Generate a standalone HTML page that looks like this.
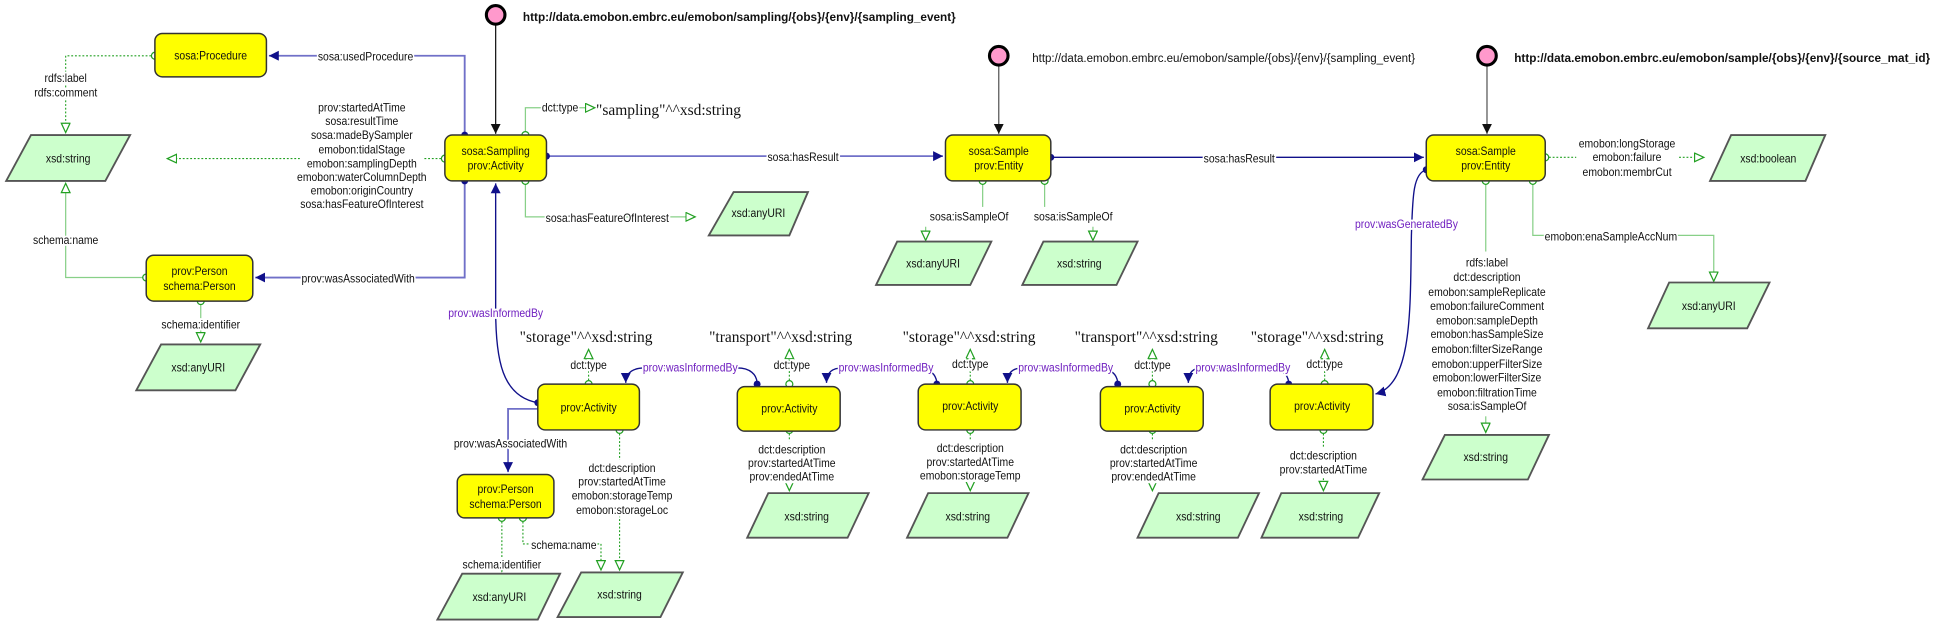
<!DOCTYPE html>
<html><head><meta charset="utf-8"><style>
html,body{margin:0;padding:0;background:#fff;width:1943px;height:635px;overflow:hidden}
svg{display:block}
text{font-family:"Liberation Sans Narrow","Liberation Sans",sans-serif;font-size:10px;fill:#111;transform-box:fill-box;transform-origin:center;transform:scaleX(.84)}
.c{text-anchor:middle}
.l{paint-order:stroke;stroke:#fff;stroke-width:3px}
.ser{font-family:"Liberation Serif","DejaVu Serif",serif;font-size:12.5px;transform:none}
.pur{fill:#7020c0}
.b{font-weight:bold;font-family:"Liberation Sans",sans-serif;font-size:9.5px;transform:none}
.t{transform:none;font-family:"Liberation Sans",sans-serif;font-size:9.3px}
.box{fill:#ffff00;stroke:#333;stroke-width:1.2}
.par{fill:#ccffcc;stroke:#555;stroke-width:1.5}
.ob{fill:none;stroke:#7070c8;stroke-width:1.5}
.od{fill:none;stroke:#10108a;stroke-width:1.1}
.dg{fill:none;stroke:#22a022;stroke-width:0.9;stroke-dasharray:1.5,1.5}
.sg{fill:none;stroke:#88d088;stroke-width:1}
</style></head><body>
<svg width="1943" height="635" viewBox="0 0 1568 512.5" preserveAspectRatio="none" xmlns="http://www.w3.org/2000/svg">
<defs>
<marker id="aB" markerUnits="userSpaceOnUse" markerWidth="10" markerHeight="10" refX="8" refY="4" orient="auto"><path d="M0,0 L8,4 L0,8 z" fill="#10108a"/></marker>
<marker id="aK" markerUnits="userSpaceOnUse" markerWidth="10" markerHeight="10" refX="8" refY="4" orient="auto"><path d="M0,0 L8,4 L0,8 z" fill="#111"/></marker>
<marker id="aG" markerUnits="userSpaceOnUse" markerWidth="10" markerHeight="10" refX="8" refY="4" orient="auto"><path d="M0.5,0.5 L8,4 L0.5,7.5 z" fill="#fff" stroke="#22a022" stroke-width="1"/></marker>
<marker id="cG" markerUnits="userSpaceOnUse" markerWidth="8" markerHeight="8" refX="4" refY="4" orient="auto"><circle cx="4" cy="4" r="2.8" fill="#fff" stroke="#22a022" stroke-width="1"/></marker>
</defs>

<!-- URI circles -->
<line x1="400" y1="19" x2="400" y2="108" stroke="#111" stroke-width="1" marker-end="url(#aK)"/>
<circle cx="400" cy="12" r="7.5" fill="#ff99cc" stroke="#000" stroke-width="2.5"/>
<text class="b" x="422" y="17">http://data.emobon.embrc.eu/emobon/sampling/{obs}/{env}/{sampling_event}</text>
<line x1="806" y1="52" x2="806" y2="108" stroke="#555" stroke-width="1" marker-end="url(#aK)"/>
<circle cx="806" cy="45" r="7.5" fill="#ff99cc" stroke="#000" stroke-width="2.5"/>
<text class="t" x="833" y="50">http://data.emobon.embrc.eu/emobon/sample/{obs}/{env}/{sampling_event}</text>
<line x1="1200" y1="52" x2="1200" y2="108" stroke="#555" stroke-width="1" marker-end="url(#aK)"/>
<circle cx="1200" cy="45" r="7.5" fill="#ff99cc" stroke="#000" stroke-width="2.5"/>
<text class="b" x="1222" y="50">http://data.emobon.embrc.eu/emobon/sample/{obs}/{env}/{source_mat_id}</text>

<!-- object edges -->
<path class="ob" d="M375,109 V45 H217" marker-end="url(#aB)"/>
<text class="c l" x="295" y="49">sosa:usedProcedure</text>
<path class="ob" d="M375,146 V224 H206" marker-end="url(#aB)"/>
<text class="c l" x="289" y="228">prov:wasAssociatedWith</text>
<circle cx="375" cy="109" r="2.8" fill="#10108a"/><circle cx="375" cy="146" r="2.8" fill="#10108a"/>
<path class="ob" d="M441,126 H761" marker-end="url(#aB)"/>
<circle cx="441" cy="126" r="2.8" fill="#10108a"/>
<text class="c l" x="648" y="130">sosa:hasResult</text>
<path class="od" d="M848,127 H1149" marker-end="url(#aB)"/>
<circle cx="848" cy="127" r="2.8" fill="#10108a"/>
<text class="c l" x="1000" y="131">sosa:hasResult</text>

<!-- wasInformedBy sampling -->
<path class="od" d="M434,325 C405,320 400,290 400,250 L400,148" marker-end="url(#aB)"/>
<circle cx="434" cy="325" r="2.8" fill="#10108a"/>
<text class="c l pur" x="400" y="256">prov:wasInformedBy</text>
<!-- wasGeneratedBy -->
<path class="od" d="M1151,137 C1140,140 1140,160 1139,190 C1138,250 1140,310 1110,318" marker-end="url(#aB)"/>
<circle cx="1151" cy="137" r="2.8" fill="#10108a"/>
<text class="c l pur" x="1135" y="184">prov:wasGeneratedBy</text>
<!-- A1 -> Person2 -->
<path class="ob" d="M434,330 H410 V381" marker-end="url(#aB)"/>
<text class="c l" x="412" y="361">prov:wasAssociatedWith</text>

<!-- wasInformedBy chain -->
<path class="od" d="M611,310 C611,302 605,297 595,297 H520 C512,297 505,300 505,309" marker-end="url(#aB)"/>
<circle cx="611" cy="310" r="2.8" fill="#10108a"/>
<text class="c l pur" x="557" y="300">prov:wasInformedBy</text>
<path class="od" d="M756,310 C756,302 750,297 740,297 H680 C672,297 667,300 667,309" marker-end="url(#aB)"/>
<circle cx="756" cy="310" r="2.8" fill="#10108a"/>
<text class="c l pur" x="715" y="300">prov:wasInformedBy</text>
<path class="od" d="M902,310 C902,302 896,297 886,297 H825 C818,297 813,300 813,309" marker-end="url(#aB)"/>
<circle cx="902" cy="310" r="2.8" fill="#10108a"/>
<text class="c l pur" x="860" y="300">prov:wasInformedBy</text>
<path class="od" d="M1040,310 C1040,302 1034,297 1024,297 H970 C963,297 959,300 959,309" marker-end="url(#aB)"/>
<circle cx="1040" cy="310" r="2.8" fill="#10108a"/>
<text class="c l pur" x="1003" y="300">prov:wasInformedBy</text>

<!-- datatype edges -->
<path class="dg" d="M125,45 H53 V107" marker-start="url(#cG)" marker-end="url(#aG)"/>
<text class="c l" x="53" y="66">rdfs:label</text><text class="c l" x="53" y="78">rdfs:comment</text>
<path class="dg" d="M359,128 H135" marker-start="url(#cG)" marker-end="url(#aG)"/>
<rect x="242" y="80" width="100" height="92" fill="#fff"/>
<text class="c" x="292" y="90">prov:startedAtTime</text>
<text class="c" x="292" y="101">sosa:resultTime</text>
<text class="c" x="292" y="112">sosa:madeBySampler</text>
<text class="c" x="292" y="124">emobon:tidalStage</text>
<text class="c" x="292" y="135">emobon:samplingDepth</text>
<text class="c" x="292" y="146">emobon:waterColumnDepth</text>
<text class="c" x="292" y="157">emobon:originCountry</text>
<text class="c" x="292" y="168">sosa:hasFeatureOfInterest</text>
<path class="sg" d="M118,224 H53 V148" marker-start="url(#cG)" marker-end="url(#aG)"/>
<text class="c l" x="53" y="197">schema:name</text>
<path class="sg" d="M162,243 V276" marker-start="url(#cG)" marker-end="url(#aG)"/>
<text class="c l" x="162" y="265">schema:identifier</text>
<path class="sg" d="M424,109 V87 H480" marker-start="url(#cG)" marker-end="url(#aG)"/>
<text class="c l" x="452" y="90">dct:type</text>
<text class="ser" x="481" y="93">"sampling"^^xsd:string</text>
<path class="sg" d="M424,146 V175 H561" marker-start="url(#cG)" marker-end="url(#aG)"/>
<text class="c l" x="490" y="179">sosa:hasFeatureOfInterest</text>

<path class="sg" d="M793,146 V167" marker-start="url(#cG)"/>
<text class="c" x="782" y="178">sosa:isSampleOf</text>
<path class="sg" d="M747,183 V194" marker-end="url(#aG)"/>
<path class="sg" d="M843,146 V167" marker-start="url(#cG)"/>
<text class="c" x="866" y="178">sosa:isSampleOf</text>
<path class="sg" d="M882,183 V194" marker-end="url(#aG)"/>

<path class="dg" d="M1247,127 H1375" marker-start="url(#cG)" marker-end="url(#aG)"/>
<rect x="1272" y="108" width="82" height="36" fill="#fff"/>
<text class="c" x="1313" y="119">emobon:longStorage</text>
<text class="c" x="1313" y="130">emobon:failure</text>
<text class="c" x="1313" y="142">emobon:membrCut</text>
<path class="sg" d="M1237,146 V190 H1383 V227" marker-start="url(#cG)" marker-end="url(#aG)"/>
<text class="c l" x="1300" y="194">emobon:enaSampleAccNum</text>
<path class="sg" d="M1199,146 V349" marker-start="url(#cG)" marker-end="url(#aG)"/>
<rect x="1150" y="203" width="100" height="133" fill="#fff"/>
<text class="c" x="1200" y="215">rdfs:label</text>
<text class="c" x="1200" y="227">dct:description</text>
<text class="c" x="1200" y="239">emobon:sampleReplicate</text>
<text class="c" x="1200" y="250">emobon:failureComment</text>
<text class="c" x="1200" y="262">emobon:sampleDepth</text>
<text class="c" x="1200" y="273">emobon:hasSampleSize</text>
<text class="c" x="1200" y="285">emobon:filterSizeRange</text>
<text class="c" x="1200" y="297">emobon:upperFilterSize</text>
<text class="c" x="1200" y="308">emobon:lowerFilterSize</text>
<text class="c" x="1200" y="320">emobon:filtrationTime</text>
<text class="c" x="1200" y="331">sosa:isSampleOf</text>

<!-- A1 datatype -->
<path class="dg" d="M475,310 V282" marker-start="url(#cG)" marker-end="url(#aG)"/>
<text class="c l" x="475" y="298">dct:type</text>
<text class="c ser" x="473" y="276">"storage"^^xsd:string</text>
<path class="dg" d="M500,347 V460" marker-start="url(#cG)" marker-end="url(#aG)"/>
<rect x="462" y="371" width="78" height="46" fill="#fff"/>
<text class="c" x="502" y="381">dct:description</text>
<text class="c" x="502" y="392">prov:startedAtTime</text>
<text class="c" x="502" y="403">emobon:storageTemp</text>
<text class="c" x="502" y="415">emobon:storageLoc</text>
<path class="dg" d="M405,418 V461" marker-start="url(#cG)" marker-end="url(#aG)"/>
<text class="c l" x="405" y="459">schema:identifier</text>
<path class="dg" d="M422,418 V439 H485 V460" marker-start="url(#cG)" marker-end="url(#aG)"/>
<text class="c l" x="455" y="443">schema:name</text>

<!-- A2..A5 datatype -->
<path class="dg" d="M637,310 V282" marker-start="url(#cG)" marker-end="url(#aG)"/>
<text class="c l" x="639" y="298">dct:type</text>
<text class="c ser" x="630" y="276">"transport"^^xsd:string</text>
<path class="dg" d="M637,347 V396" marker-start="url(#cG)" marker-end="url(#aG)"/>
<rect x="598" y="356" width="82" height="34" fill="#fff"/>
<text class="c" x="639" y="366">dct:description</text><text class="c" x="639" y="377">prov:startedAtTime</text><text class="c" x="639" y="388">prov:endedAtTime</text>

<path class="dg" d="M783,310 V282" marker-start="url(#cG)" marker-end="url(#aG)"/>
<text class="c l" x="783" y="297">dct:type</text>
<text class="c ser" x="782" y="276">"storage"^^xsd:string</text>
<path class="dg" d="M783,347 V396" marker-start="url(#cG)" marker-end="url(#aG)"/>
<rect x="740" y="355" width="86" height="34" fill="#fff"/>
<text class="c" x="783" y="365">dct:description</text><text class="c" x="783" y="376">prov:startedAtTime</text><text class="c" x="783" y="387">emobon:storageTemp</text>

<path class="dg" d="M930,310 V282" marker-start="url(#cG)" marker-end="url(#aG)"/>
<text class="c l" x="930" y="298">dct:type</text>
<text class="c ser" x="925" y="276">"transport"^^xsd:string</text>
<path class="dg" d="M930,347 V396" marker-start="url(#cG)" marker-end="url(#aG)"/>
<rect x="890" y="356" width="82" height="34" fill="#fff"/>
<text class="c" x="931" y="366">dct:description</text><text class="c" x="931" y="377">prov:startedAtTime</text><text class="c" x="931" y="388">prov:endedAtTime</text>

<path class="dg" d="M1069,310 V282" marker-start="url(#cG)" marker-end="url(#aG)"/>
<text class="c l" x="1069" y="297">dct:type</text>
<text class="c ser" x="1063" y="276">"storage"^^xsd:string</text>
<path class="dg" d="M1068,347 V396" marker-start="url(#cG)" marker-end="url(#aG)"/>
<rect x="1027" y="361" width="82" height="24" fill="#fff"/>
<text class="c" x="1068" y="371">dct:description</text><text class="c" x="1068" y="382">prov:startedAtTime</text>

<!-- boxes -->
<rect class="box" x="125" y="27" width="90" height="35" rx="6"/>
<text class="c" x="170" y="48">sosa:Procedure</text>
<rect class="box" x="359" y="109" width="82" height="37" rx="6"/>
<text class="c" x="400" y="125">sosa:Sampling</text><text class="c" x="400" y="137">prov:Activity</text>
<rect class="box" x="118" y="206" width="86" height="37" rx="6"/>
<text class="c" x="161" y="222">prov:Person</text><text class="c" x="161" y="234">schema:Person</text>
<rect class="box" x="763" y="109" width="85" height="37" rx="6"/>
<text class="c" x="806" y="125">sosa:Sample</text><text class="c" x="806" y="137">prov:Entity</text>
<rect class="box" x="1151" y="109" width="96" height="37" rx="6"/>
<text class="c" x="1199" y="125">sosa:Sample</text><text class="c" x="1199" y="137">prov:Entity</text>
<rect class="box" x="434" y="310" width="82" height="37" rx="6"/>
<text class="c" x="475" y="332">prov:Activity</text>
<rect class="box" x="595" y="312" width="83" height="36" rx="6"/>
<text class="c" x="637" y="333">prov:Activity</text>
<rect class="box" x="741" y="310" width="83" height="37" rx="6"/>
<text class="c" x="783" y="331">prov:Activity</text>
<rect class="box" x="888" y="312" width="83" height="36" rx="6"/>
<text class="c" x="930" y="333">prov:Activity</text>
<rect class="box" x="1025" y="310" width="83" height="37" rx="6"/>
<text class="c" x="1067" y="331">prov:Activity</text>
<rect class="box" x="369" y="383" width="78" height="35" rx="6"/>
<text class="c" x="408" y="398">prov:Person</text><text class="c" x="408" y="410">schema:Person</text>

<!-- parallelograms -->
<polygon class="par" points="25,109 105,109 85,146 5,146"/><text class="c" x="55" y="131">xsd:string</text>
<polygon class="par" points="130,278 210,278 190,315 110,315"/><text class="c" x="160" y="300">xsd:anyURI</text>
<polygon class="par" points="592,155 652,155 637,190 572,190"/><text class="c" x="612" y="175">xsd:anyURI</text>
<polygon class="par" points="724,195 800,195 783,230 707,230"/><text class="c" x="753" y="216">xsd:anyURI</text>
<polygon class="par" points="842,195 918,195 901,230 825,230"/><text class="c" x="871" y="216">xsd:string</text>
<polygon class="par" points="1397,109 1473,109 1457,146 1380,146"/><text class="c" x="1427" y="131">xsd:boolean</text>
<polygon class="par" points="1347,228 1428,228 1410,265 1330,265"/><text class="c" x="1379" y="250">xsd:anyURI</text>
<polygon class="par" points="1166,351 1250,351 1233,387 1148,387"/><text class="c" x="1199" y="372">xsd:string</text>
<polygon class="par" points="373,463 452,463 434,500 353,500"/><text class="c" x="403" y="485">xsd:anyURI</text>
<polygon class="par" points="469,462 551,462 533,498 450,498"/><text class="c" x="500" y="483">xsd:string</text>
<polygon class="par" points="620,398 701,398 684,434 603,434"/><text class="c" x="651" y="420">xsd:string</text>
<polygon class="par" points="749,398 830,398 813,434 732,434"/><text class="c" x="781" y="420">xsd:string</text>
<polygon class="par" points="935,398 1016,398 999,434 918,434"/><text class="c" x="967" y="420">xsd:string</text>
<polygon class="par" points="1034,398 1113,398 1096,434 1018,434"/><text class="c" x="1066" y="420">xsd:string</text>
</svg>
</body></html>
